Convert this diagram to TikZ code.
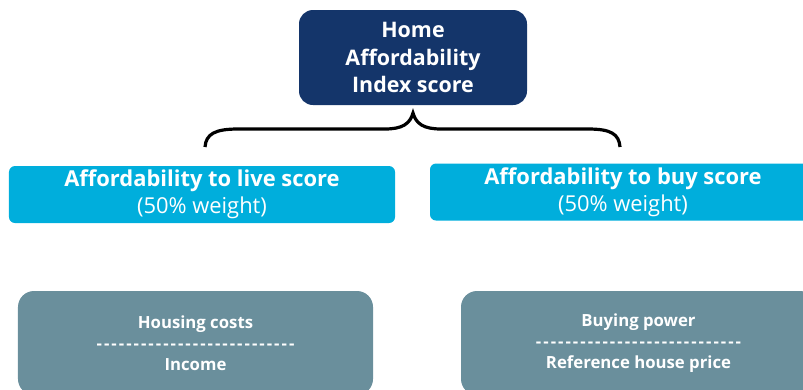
\documentclass[tikz,border=0pt]{standalone}
\usepackage{fontspec}
\setmainfont{Open Sans}[Ligatures=TeXOff]
\definecolor{navy}{HTML}{14356A}
\definecolor{skyblue}{HTML}{00AEDC}
\definecolor{slate}{HTML}{6A8F9C}
% a row of hyphens, spaced out a bit
\newcommand{\hyphenrow}[1]{{\addfontfeature{LetterSpace=12}#1}}
\begin{document}
\begin{tikzpicture}[x=1bp, y=-1bp,
    indexbox/.style={fill=navy, rounded corners=14bp, text=white, align=center,
        minimum width=228bp, minimum height=95bp,
        font=\bfseries\fontsize{21.5}{27.5}\selectfont},
    scorebox/.style={fill=skyblue, rounded corners=6bp, text=white, align=center,
        minimum width=386bp, minimum height=57bp,
        font=\fontsize{22}{27}\selectfont},
    ratiobox/.style={fill=slate, rounded corners=16bp, text=white, align=center,
        minimum width=355bp, minimum height=104bp,
        font=\bfseries\fontsize{16.8}{21}\selectfont}]
    \useasboundingbox (0,0) rectangle (803,389);
    \clip (0,0) rectangle (803,389);
    % Index score on top
    \node[indexbox] (index) at (413,57.5) {Home\\Affordability\\Index score};
    % Brace under the index
    \draw[line width=3.2bp] (205,147) .. controls (206,134) and (215,129) .. (238,129)
        -- (385,129) .. controls (402,129) and (410,124) .. (413,113)
        .. controls (416,124) and (424,129) .. (441,129)
        -- (588,129) .. controls (611,129) and (619,134) .. (620,147);
    % The two scores
    \node[scorebox] (live) at (202,194.5) {\textbf{Affordability to live score}\\(50\% weight)};
    \node[scorebox] (buy) at (623,192) {\textbf{Affordability to buy score}\\(50\% weight)};
    % Ratios behind each score
    \node[ratiobox] (housing) at (195.5,343) {Housing costs\\\hyphenrow{---------------------------}\\Income};
    \node[ratiobox] (power) at (638.5,343) {Buying power\\\hyphenrow{----------------------------}\\Reference house price};
\end{tikzpicture}
\end{document}
